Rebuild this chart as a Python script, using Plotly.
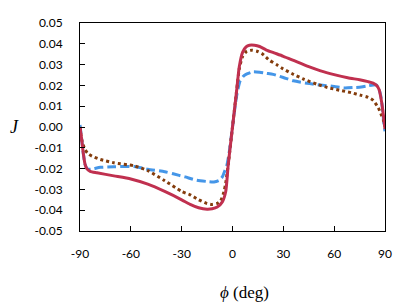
import plotly.graph_objects as go

# Red solid series
red_phi = [-90, -89, -88, -87, -86, -84, -80, -70, -60, -50, -40, -30, -25, -20, -15, -12, -9, -6, -4, -2.5,
           0, 2.5, 4, 6, 8, 10, 13, 16, 20, 25, 30, 36, 45, 52, 60, 68, 75, 80, 83, 85, 86.5, 88, 89, 90]
red_J = [0.0, -0.006, -0.013, -0.018, -0.020, -0.0213, -0.022, -0.0235, -0.025, -0.0275, -0.031, -0.035, -0.0372,
         -0.0388, -0.0395, -0.0393, -0.0385, -0.036, -0.031, -0.018,
         0.0, 0.018, 0.029, 0.036, 0.0385, 0.0393, 0.0393, 0.0387, 0.037, 0.0355, 0.034, 0.032, 0.029, 0.027,
         0.0252, 0.0237, 0.0227, 0.0218, 0.0211, 0.020, 0.018, 0.012, 0.006, -0.001]

# Brown dotted series
brown_phi = [-90, -89, -87, -85, -83, -78, -70, -58, -50, -40, -30, -25, -20, -15, -12, -9, -7, -5, -4, -2.5,
             0, 2.5, 4, 6, 8.5, 11.5, 14.5, 17.5, 22, 26, 29, 35, 42, 50, 56, 63, 70, 76, 80, 83, 86, 88, 89, 90]
brown_J = [0.0, -0.006, -0.011, -0.013, -0.014, -0.0156, -0.0172, -0.0187, -0.021, -0.0258, -0.031, -0.0326,
           -0.035, -0.0368, -0.0372, -0.0367, -0.0355, -0.031, -0.027, -0.018,
           0.0, 0.018, 0.028, 0.034, 0.0365, 0.0369, 0.0364, 0.0352, 0.032, 0.030, 0.0284, 0.0257, 0.023, 0.0205,
           0.019, 0.0177, 0.0165, 0.0152, 0.0143, 0.0128, 0.0093, 0.0055, 0.0035, 0.0]

# Blue dashed series
blue_phi = [-90, -89, -88, -87, -85.5, -83, -78, -70, -58, -50, -40, -35, -28, -21, -15, -11, -8, -6, -4.5, -3.4, -2,
            0, 2.5, 4.5, 6.5, 8.5, 12, 16, 20, 24, 30, 36, 44, 52, 60, 66, 72, 76, 80, 83, 85, 86.5, 87.5, 88.5, 89.3, 90]
blue_J = [0.001, -0.006, -0.013, -0.018, -0.0202, -0.0202, -0.0194, -0.0191, -0.019, -0.0203, -0.0215, -0.0225,
          -0.024, -0.0256, -0.0262, -0.0264, -0.0257, -0.024, -0.021, -0.0187, -0.0125,
          0.0, 0.0153, 0.0222, 0.0245, 0.0255, 0.0265, 0.0263, 0.0258, 0.0253, 0.0238, 0.0222, 0.021, 0.0202,
          0.0195, 0.0188, 0.019, 0.0192, 0.0198, 0.0202, 0.0202, 0.018, 0.015, 0.009, 0.002, -0.002]

x_ticks = [-90, -60, -30, 0, 30, 60, 90]
y_ticks = [-0.05, -0.04, -0.03, -0.02, -0.01, 0.0, 0.01, 0.02, 0.03, 0.04, 0.05]

fig = go.Figure()
fig.add_trace(go.Scatter(x=blue_phi, y=blue_J, mode="lines", line=dict(color="#4596E8", width=3, dash="9px,4px", shape="spline", smoothing=0.6)))
fig.add_trace(go.Scatter(x=brown_phi, y=brown_J, mode="lines", line=dict(color="#843C0C", width=3, dash="3px,3px", shape="spline", smoothing=0.6)))
fig.add_trace(go.Scatter(x=red_phi, y=red_J, mode="lines", line=dict(color="#C0304F", width=3, shape="spline", smoothing=0.6)))

tickfont = dict(family="Lato, sans-serif", size=12, color="#000000")
fig.update_layout(
    width=407, height=304,
    margin=dict(l=72, r=30, t=7, b=81),
    paper_bgcolor="white", plot_bgcolor="white",
    showlegend=False,
    xaxis=dict(range=[-90, 90], tickvals=x_ticks, ticktext=[str(v) for v in x_ticks],
               ticks="inside", ticklen=5, tickcolor="black", showline=True, linecolor="black",
               linewidth=1, mirror=True, showgrid=False, zeroline=False, tickfont=tickfont,
               ticklabelstandoff=12, ticklabeloverflow="allow"),
    yaxis=dict(range=[-0.05, 0.05], tickvals=y_ticks, ticktext=[f"{v:.2f}" for v in y_ticks],
               ticks="inside", ticklen=5, tickcolor="black", showline=True, linecolor="black",
               linewidth=1, mirror=True, showgrid=False, zeroline=False, tickfont=tickfont,
               ticklabelstandoff=14, ticklabeloverflow="allow"),
    annotations=[
        dict(text="<i>J</i>", xref="paper", yref="paper", x=-0.216, y=0.5, showarrow=False,
             xanchor="center", yanchor="middle",
             font=dict(family="Liberation Serif, serif", size=18, color="black")),
        dict(text="<i>ϕ</i> (deg)", xref="paper", yref="paper", x=0.538, y=-0.296, showarrow=False,
             xanchor="center", yanchor="middle",
             font=dict(family="Liberation Serif, serif", size=17, color="black")),
    ],
)
fig.write_html("out.html")
